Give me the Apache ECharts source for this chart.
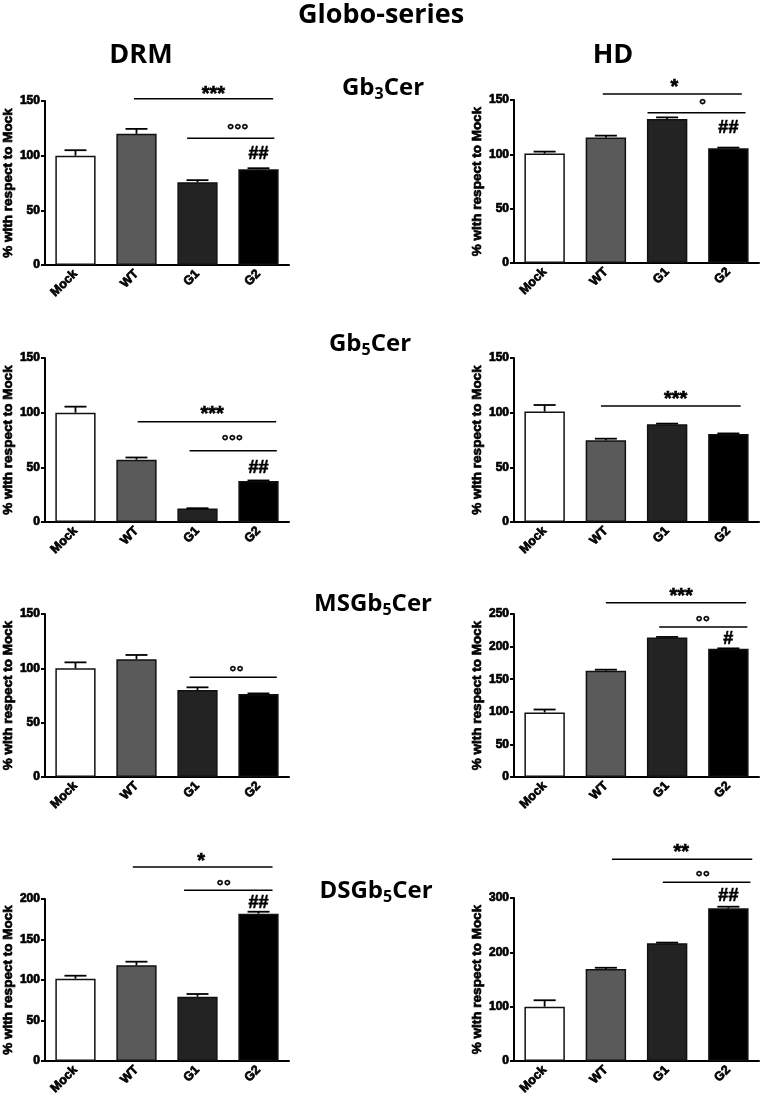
<!DOCTYPE html>
<html><head><meta charset="utf-8">
<script src="https://cdn.jsdelivr.net/npm/echarts@6/dist/echarts.min.js"></script>
<style>html,body{margin:0;padding:0;background:#fff}#c{width:762px;height:1102px}</style>
</head><body><div id="c"></div>
<script>
// ---------------- data ----------------
const categories = ['Mock', 'WT', 'G1', 'G2'];

// DRM / HD means and upper SEM, per glycolipid
const drmGb3Mean = [100, 120, 75.6, 87.5];
const drmGb3Err  = [5, 4.5, 2, 1];
const hdGb3Mean  = [100.7, 115.4, 132.5, 105.6];
const hdGb3Err   = [1.8, 1.8, 1.5, 0.6];

const drmGb5Mean = [100, 57, 12.3, 37.4];
const drmGb5Err  = [5.5, 2, 0.3, 0.6];
const hdGb5Mean  = [101, 74.7, 89.4, 80.5];
const hdGb5Err   = [6, 1.5, 0.6, 0.5];

const drmMSGb5Mean = [100, 108.3, 80, 76.4];
const drmMSGb5Err  = [5.5, 4, 2.5, 0.5];
const hdMSGb5Mean  = [99, 163, 214, 196.8];
const hdMSGb5Err   = [4.5, 1.6, 0.8, 0.5];

const drmDSGb5Mean = [101.6, 118.1, 79.4, 181.9];
const drmDSGb5Err  = [3.7, 4.5, 3.3, 2.4];
const hdDSGb5Mean  = [100, 169.2, 216.8, 281];
const hdDSGb5Err   = [11.8, 2.4, 1.1, 3];

// significance marks: line spans (category units, 0 = Mock centre), value level, label position
const drmGb3Sig = [
  {label: '***', from: 0.96, to: 3.24, y: 152, tx: 2.26, ty: 160},
  {label: '°°°', from: 1.83, to: 3.26, y: 116, tx: 2.66, ty: 126},
  {label: '##', tx: 3, ty: 101.5}
];
const hdGb3Sig = [
  {label: '*', from: 0.95, to: 3.22, y: 155.5, tx: 2.12, ty: 165.6},
  {label: '°', from: 1.68, to: 3.28, y: 138.3, tx: 2.58, ty: 148.4},
  {label: '##', tx: 3, ty: 124.3}
];
const drmGb5Sig = [
  {label: '***', from: 1.02, to: 3.29, y: 91.6, tx: 2.24, ty: 102.5},
  {label: '°°°', from: 1.87, to: 3.3, y: 65.2, tx: 2.57, ty: 77.1},
  {label: '##', tx: 3, ty: 49.6}
];
const hdGb5Sig = [
  {label: '***', from: 0.92, to: 3.2, y: 106, tx: 2.14, ty: 116}
];
const drmMSGb5Sig = [
  {label: '°°', from: 1.87, to: 3.3, y: 91.7, tx: 2.64, ty: 99.1}
];
const hdMSGb5Sig = [
  {label: '***', from: 1.0, to: 3.29, y: 267.3, tx: 2.23, ty: 283},
  {label: '°°', from: 1.87, to: 3.31, y: 230, tx: 2.58, ty: 242.3},
  {label: '#', tx: 3, ty: 211.2}
];
const drmDSGb5Sig = [
  {label: '*', from: 0.94, to: 3.23, y: 239.5, tx: 2.06, ty: 252.2},
  {label: '°°', from: 1.78, to: 3.23, y: 210.7, tx: 2.43, ty: 220.1},
  {label: '##', tx: 3, ty: 194.7}
];
const hdDSGb5Sig = [
  {label: '**', from: 1.1, to: 3.39, y: 371.3, tx: 2.23, ty: 391.7},
  {label: '°°', from: 1.93, to: 3.36, y: 329, tx: 2.58, ty: 344.8},
  {label: '##', tx: 3, ty: 303.1}
];

// y axis tick ranges
const axis150 = {max: 150, interval: 50};
const axis200 = {max: 200, interval: 50};
const axis250 = {max: 250, interval: 50};
const axis300 = {max: 300, interval: 100};

const mainTitle = 'Globo-series';
const colTitles = ['DRM', 'HD'];
const rowTitles = [['Gb', '3', 'Cer'], ['Gb', '5', 'Cer'], ['MSGb', '5', 'Cer'], ['DSGb', '5', 'Cer']];
const yName = '% with respect to Mock';

// ---------------- layout / style ----------------
const barFill = ['#ffffff', '#5a5a5a', '#232323', '#000000'];
const panels = [
  {mean: drmGb3Mean, err: drmGb3Err, sig: drmGb3Sig, ax: axis150, grid: {left: 43, top: 101, width: 246, height: 164}},
  {mean: hdGb3Mean, err: hdGb3Err, sig: hdGb3Sig, ax: axis150, grid: {left: 514, top: 100, width: 245, height: 163}},
  {mean: drmGb5Mean, err: drmGb5Err, sig: drmGb5Sig, ax: axis150, grid: {left: 43, top: 358, width: 246, height: 164}},
  {mean: hdGb5Mean, err: hdGb5Err, sig: hdGb5Sig, ax: axis150, grid: {left: 514, top: 358, width: 245, height: 164}},
  {mean: drmMSGb5Mean, err: drmMSGb5Err, sig: drmMSGb5Sig, ax: axis150, grid: {left: 43, top: 614, width: 246, height: 163}},
  {mean: hdMSGb5Mean, err: hdMSGb5Err, sig: hdMSGb5Sig, ax: axis250, grid: {left: 514, top: 614, width: 245, height: 163}},
  {mean: drmDSGb5Mean, err: drmDSGb5Err, sig: drmDSGb5Sig, ax: axis200, grid: {left: 43, top: 899, width: 246, height: 162}},
  {mean: hdDSGb5Mean, err: hdDSGb5Err, sig: hdDSGb5Sig, ax: axis300, grid: {left: 514, top: 898, width: 245, height: 163}}
];
const rowTitlePos = [[383, 88], [370, 344], [373, 604], [376, 891]];
const colTitlePos = [[141, 55], [613, 55]];

const ARIAL = '"Liberation Sans", Arial, sans-serif';
const TITLE_FONT = '"Open Sans", sans-serif';
const heavy = {textBorderColor: '#000', textBorderWidth: 0.7};

const grids = [], xAxes = [], yAxes = [], series = [];
panels.forEach((p, i) => {
  grids.push(Object.assign({containLabel: false}, p.grid));
  xAxes.push({
    type: 'category', gridIndex: i, data: categories,
    axisLine: {lineStyle: {color: '#000', width: 2}},
    axisTick: {alignWithLabel: true, length: 4, lineStyle: {color: '#000', width: 2}},
    axisLabel: Object.assign({rotate: 45, margin: 7, color: '#000', fontSize: 12.5, fontWeight: 'bold', fontFamily: ARIAL}, heavy),
    splitLine: {show: false}
  });
  yAxes.push({
    type: 'value', gridIndex: i, min: 0, max: p.ax.max, interval: p.ax.interval,
    name: yName, nameLocation: 'middle', nameGap: i % 2 === 0 ? 29 : 30,
    nameTextStyle: Object.assign({color: '#000', fontSize: 13.5, fontWeight: 'bold', fontFamily: ARIAL}, heavy),
    axisLine: {show: true, lineStyle: {color: '#000', width: 2}},
    axisTick: {show: true, length: 4, lineStyle: {color: '#000', width: 2}},
    axisLabel: Object.assign({margin: 5, color: '#000', fontSize: 12, fontWeight: 'bold', fontFamily: ARIAL}, heavy),
    splitLine: {show: false}
  });
  series.push({
    type: 'bar', xAxisIndex: i, yAxisIndex: i, barWidth: '66%',
    data: p.mean.map((v, j) => ({value: v, itemStyle: {color: barFill[j]}})),
    itemStyle: {borderColor: '#111', borderWidth: 1.5},
    silent: true, z: 2
  });
  series.push({
    type: 'custom', xAxisIndex: i, yAxisIndex: i, clip: false, silent: true, z: 3,
    data: p.mean.map((v, j) => [j, v, v + p.err[j]]),
    encode: {x: 0, y: 1},
    renderItem: (params, api) => {
      const a = api.coord([api.value(0), api.value(1)]);
      const b = api.coord([api.value(0), api.value(2)]);
      const half = api.size([1, 0])[0] * 0.18;
      return {type: 'group', children: [
        {type: 'line', shape: {x1: a[0], y1: a[1], x2: b[0], y2: b[1]}, style: {stroke: '#000', lineWidth: 1.8}},
        {type: 'line', shape: {x1: b[0] - half, y1: b[1], x2: b[0] + half, y2: b[1]}, style: {stroke: '#000', lineWidth: 1.8}}
      ]};
    }
  });
  const sig = p.sig;
  series.push({
    type: 'custom', xAxisIndex: i, yAxisIndex: i, clip: false, silent: true, z: 4,
    data: sig.map(s => [0, s.ty]),
    encode: {x: 0, y: 1},
    renderItem: (params, api) => {
      const s = sig[params.dataIndex];
      const base = api.coord([0, 0]);
      const bw = api.size([1, 0])[0];
      const xOf = u => base[0] + u * bw;
      const yOf = v => api.coord([0, v])[1];
      const children = [];
      if (s.from != null) {
        children.push({type: 'line', shape: {x1: xOf(s.from), y1: yOf(s.y), x2: xOf(s.to), y2: yOf(s.y)},
          style: {stroke: '#000', lineWidth: 1.5}});
      }
      const star = s.label.indexOf('*') >= 0;
      const ring = s.label.indexOf('°') >= 0;
      const fs = star ? 20 : 18;
      children.push({type: 'text', x: xOf(s.tx), y: yOf(s.ty) + ((star || ring) ? 0.22 * fs : 0),
        style: {text: s.label, fill: '#000', fontSize: fs, fontWeight: 'bold', fontFamily: ARIAL,
          align: 'center', verticalAlign: 'middle',
          stroke: '#000', lineWidth: ring ? 0.3 : 0.6}});
      return {type: 'group', children: children};
    }
  });
});

const graphics = [];
graphics.push({type: 'text', x: 381, y: 15, style: {text: mainTitle, fill: '#000',
  fontSize: 27, fontWeight: 'bold', fontFamily: TITLE_FONT, align: 'center', verticalAlign: 'middle'}});
colTitles.forEach((t, k) => {
  graphics.push({type: 'text', x: colTitlePos[k][0], y: colTitlePos[k][1], style: {text: t, fill: '#000',
    fontSize: 27, fontWeight: 'bold', fontFamily: TITLE_FONT, align: 'center', verticalAlign: 'middle'}});
});
rowTitles.forEach((t, k) => {
  graphics.push({type: 'text', x: rowTitlePos[k][0], y: rowTitlePos[k][1], style: {
    text: '{n|' + t[0] + '}{s|' + t[1] + '}{n|' + t[2] + '}',
    align: 'center', verticalAlign: 'middle',
    rich: {
      n: {fontSize: 24, fontWeight: 'bold', fontFamily: TITLE_FONT, fill: '#000', color: '#000', lineHeight: 28},
      s: {fontSize: 16, fontWeight: 'bold', fontFamily: TITLE_FONT, fill: '#000', color: '#000', lineHeight: 12, verticalAlign: 'bottom'}
    }
  }});
});

const chart = echarts.init(document.getElementById('c'), null, {renderer: 'canvas'});
chart.setOption({
  animation: false,
  backgroundColor: '#fff',
  grid: grids, xAxis: xAxes, yAxis: yAxes, series: series,
  graphic: graphics
});
</script>
</body></html>
